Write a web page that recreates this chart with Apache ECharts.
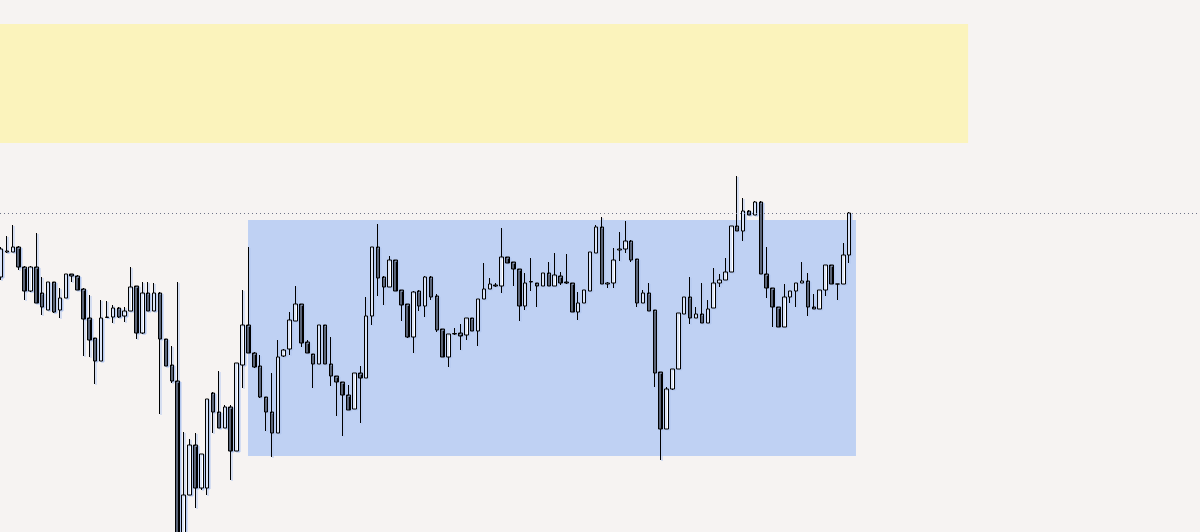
<!DOCTYPE html>
<html><head><meta charset="utf-8">
<script src="https://cdn.jsdelivr.net/npm/echarts@6/dist/echarts.min.js"></script>
<style>html,body{margin:0;padding:0;background:#f6f3f2}#c{width:1200px;height:532px}</style>
</head><body><div id="c"></div>
<script>
const opens = [1723,1748,1748,1753,1733,1709,1733,1707,1690,1718,
1690,1702,1726,1724,1711,1682,1662,1639,1682.5,1683,
1692,1684,1689,1714,1667,1707,1689,1707,1661,1635,
1619,1465,1505,1555,1512,1512,1607,1588,1572,1593,
1549,1635,1675,1647,1634,1603,1588,1567,1644,1651,
1679,1696,1658,1646,1636,1675,1636,1624,1618,1605,
1591,1627,1622,1684,1753,1723,1713,1740,1710,1696,
1663,1709,1694,1723,1704,1671,1643,1666,1667,1665,
1682,1669,1701,1711,1715,1714,1743,1738,1731,1694,
1718,1717,1714,1727,1714,1724,1718,1717,1688,1697,
1709,1747,1773,1716,1717,1750,1751,1759,1741,1697,
1707,1690,1628,1571,1611,1631,1686,1703,1682,1686,
1677,1692,1717,1720,1728,1774,1769,1789,1785,1798,
1726,1712,1693,1673,1703,1709,1717,1719,1693,1691,
1710,1735,1716,1716,1745];
const closes = [1751,1749,1753,1733,1709,1733,1697,1693,1718,1688,
1702,1726,1724,1710,1681,1660,1639,1682,1683,1692,
1683,1689,1713,1667,1707,1689,1707,1661,1634,1619,
1455,1505,1555,1512,1546,1601,1588,1572,1593,1549,
1637,1675,1647,1633,1603,1588,1567,1643,1650,1680,
1696,1657,1647,1636,1675,1636,1624,1618,1605,1590,
1627,1622,1684,1753,1722,1713,1740,1709,1695,1663,
1708,1694,1723,1703,1670,1643,1666,1666.5,1664,1682,
1669,1701,1711,1716,1714,1743,1737,1731,1694,1717,
1718.5,1714,1727,1714,1725,1717,1717,1688,1697,1710,
1748,1773,1716,1717,1740,1751,1759,1740,1697,1707,
1689,1627,1571,1611,1631,1687,1703,1682,1686,1677,
1691,1717,1720,1728,1774,1769,1789,1785,1798,1726,
1712,1693,1673,1703,1709,1717,1719,1693,1691,1710,
1735,1716,1716,1745,1787];
const lows = [1720,1747,1748,1730,1700,1708,1697,1685,1690,1687,
1682,1702,1718,1710,1644,1643,1616,1639,1682.5,1677,
1682,1678,1689,1661,1666,1689,1689,1586,1634,1617,
1440,1460,1505,1492,1510,1505,1567,1572,1572,1520,
1549,1612,1647,1632,1602,1569,1543,1567,1643,1645,
1679,1653,1647,1612,1636,1636,1614,1584,1564,1590,
1591,1577,1622,1675,1704,1695,1713,1709,1679,1662,
1647,1689,1683,1700,1668,1643,1633,1665,1650,1660,
1669,1654,1701,1711,1713,1707,1737,1714,1679,1690,
1709,1693,1714,1714,1714,1715,1716,1688,1680,1697,
1709,1747,1716,1712,1712,1739,1747,1738,1693,1697,
1689,1613,1540,1571,1610,1631,1686,1676,1682,1677,
1677,1692,1713,1720,1728,1769,1759,1785,1785,1726,
1702,1673,1673,1673,1697,1693,1717,1684,1691,1691,
1704,1716,1700,1716,1737];
const highs = [1753,1764,1775,1754,1734,1734,1767,1723,1718,1718,
1712,1726,1726,1725,1712,1705,1662,1700,1699,1695,
1693,1693,1733,1714,1718,1718,1717,1708,1661,1654,
1718,1568,1561,1567,1546,1601,1608,1629,1595,1595,
1637,1710,1753,1648,1645,1603,1627,1660,1651,1688,
1714,1696,1660,1646,1675,1675,1663,1624,1618,1615,
1627,1634,1703,1753,1776,1724,1744,1740,1710,1696,
1709,1710,1724,1724,1706,1671,1666,1672,1676,1682,
1682,1701,1737,1722,1717,1772,1743,1738,1731,1727,
1742,1717,1727,1738,1747,1728,1746,1717,1708,1710,
1748,1775,1783,1718,1752,1768,1779,1760,1741,1710,
1717,1690,1628,1613,1631,1687,1703,1723,1693,1717,
1700,1732,1726,1742,1774,1824,1802,1790,1799,1799,
1753,1712,1693,1716,1709,1717,1738,1727,1706,1710,
1735,1735,1716,1757,1788];

const levelLine = 1787;
const yellowZone = [[-0.17, 1976], [164.2, 1857]];
const blueZone = [[41.94, 1780], [145.16, 1544]];
const xRange = [-0.17, 203.57];
const yRange = [1468, 2000];

const candles = opens.map((o, i) => [i, o, closes[i], lows[i], highs[i]]);

const chart = echarts.init(document.getElementById('c'), null, {renderer: 'canvas'});
chart.setOption({
  animation: false,
  backgroundColor: '#f6f3f2',
  grid: {left: 0, right: 0, top: 0, bottom: 0, containLabel: false},
  xAxis: {type: 'value', min: xRange[0], max: xRange[1], show: false, splitLine: {show: false}},
  yAxis: {type: 'value', min: yRange[0], max: yRange[1], show: false, splitLine: {show: false}},
  series: [{
    type: 'candlestick',
    data: candles,
    encode: {x: 0, y: [1, 2, 3, 4]},
    barWidth: 4,
    clip: true,
    itemStyle: {
      color: '#ffffff', color0: '#000000',
      borderColor: '#000000', borderColor0: '#000000',
      borderWidth: 1,
      shadowColor: '#b4c8ef', shadowOffsetX: 1.5, shadowOffsetY: 1, shadowBlur: 0
    },
    markArea: {
      silent: true,
      data: [
        [{xAxis: yellowZone[0][0], yAxis: yellowZone[0][1], itemStyle: {color: '#fbf3bc'}},
         {xAxis: yellowZone[1][0], yAxis: yellowZone[1][1]}],
        [{xAxis: blueZone[0][0], yAxis: blueZone[0][1], itemStyle: {color: '#bfd1f3'}},
         {xAxis: blueZone[1][0], yAxis: blueZone[1][1]}]
      ]
    },
    markLine: {
      silent: true,
      symbol: ['none', 'none'],
      label: {show: false},
      lineStyle: {color: '#6f7488', type: [1, 3], width: 1},
      data: [{yAxis: levelLine}]
    }
  }]
});
</script>
</body></html>
